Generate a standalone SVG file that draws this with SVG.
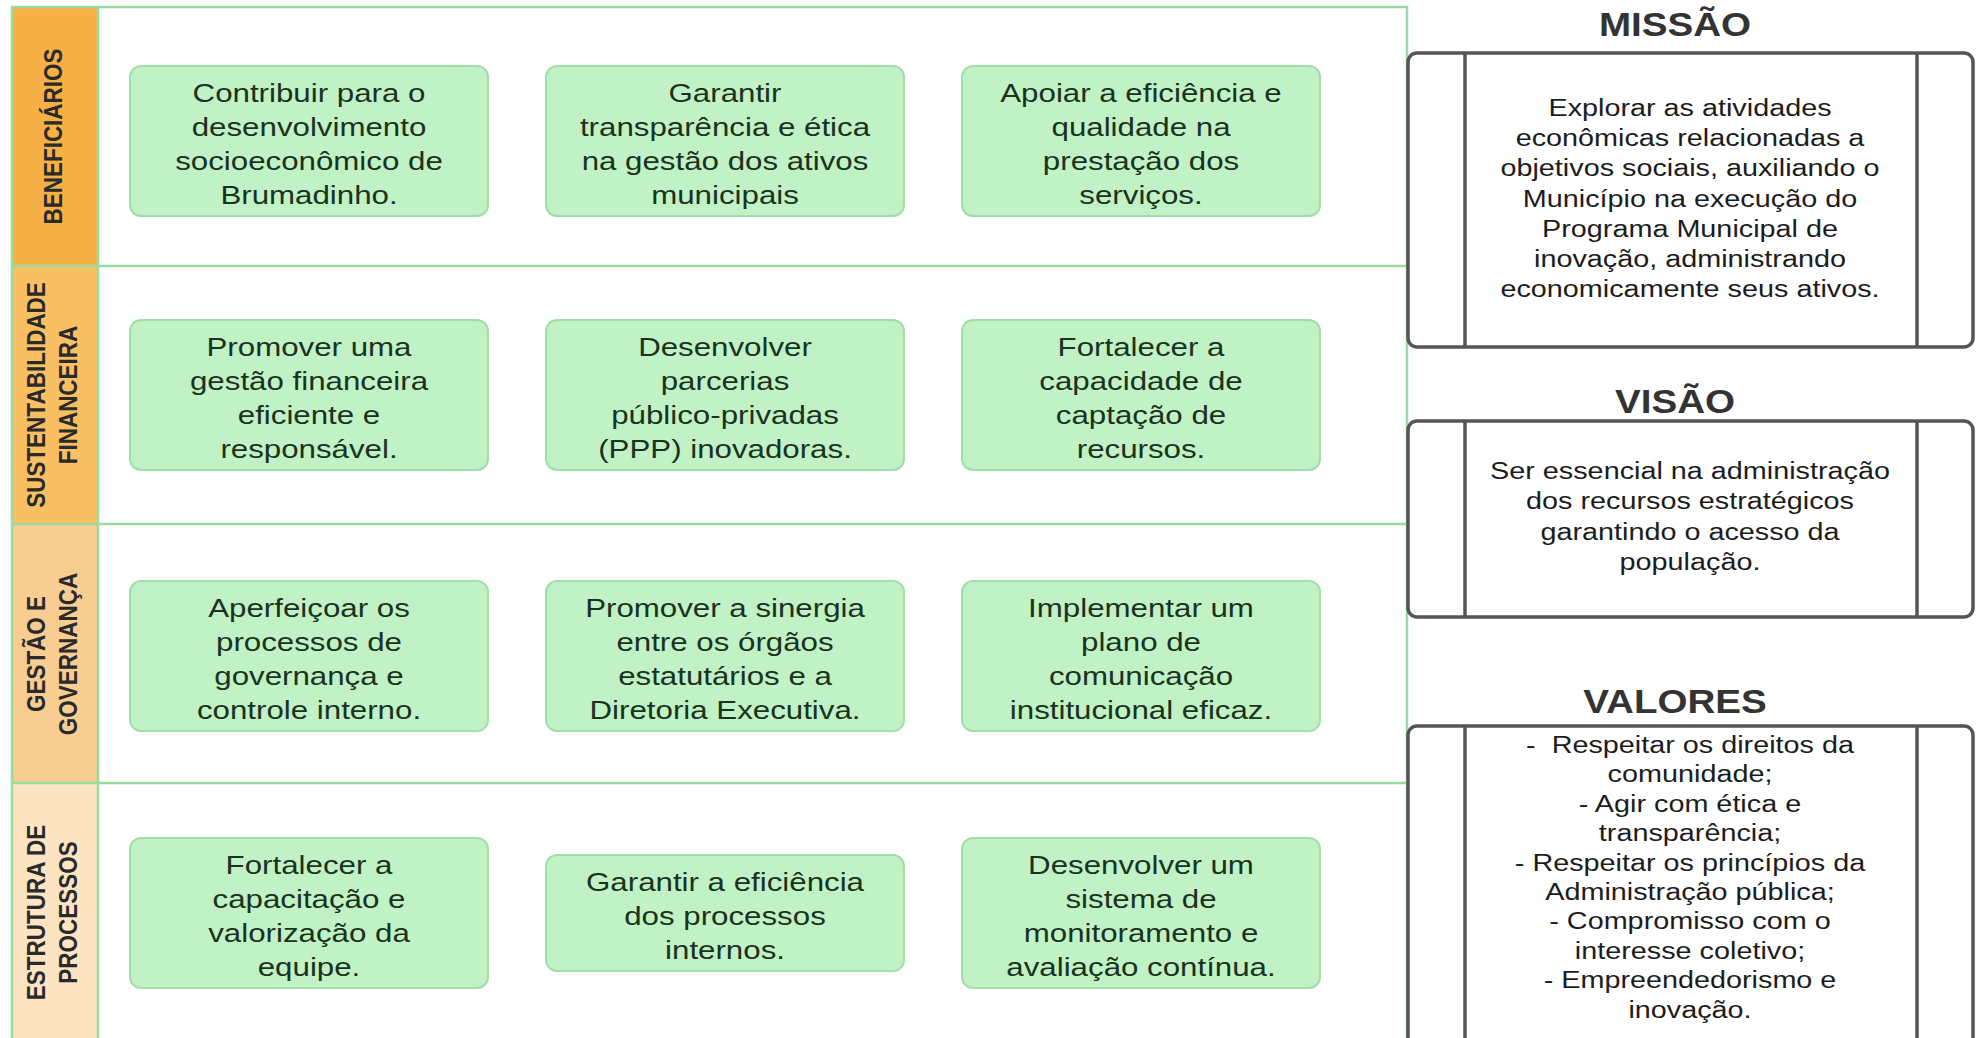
<svg xmlns="http://www.w3.org/2000/svg" width="1977" height="1038" viewBox="0 0 1977 1038">
<style>
.grid{stroke:#9adba1;stroke-width:2.5;fill:none}
.box{fill:#c1f2c5;stroke:#a2dea8;stroke-width:2}
.bt{font-family:"Liberation Sans",Arial,sans-serif;font-size:26.5px;fill:#1a3320;text-anchor:middle}
.lab{font-family:"Liberation Sans",Arial,sans-serif;font-size:22.5px;font-weight:bold;fill:#2a2a2a;text-anchor:middle}
.pan{fill:#ffffff;stroke:#555555;stroke-width:3.5}
.pl{stroke:#555555;stroke-width:3.5}
.ph{font-family:"Liberation Sans",Arial,sans-serif;font-size:32.7px;font-weight:bold;fill:#333333;text-anchor:middle}
.pt{font-family:"Liberation Sans",Arial,sans-serif;font-size:24.4px;fill:#1c1c1c;text-anchor:middle}
</style>
<rect width="1977" height="1038" fill="#ffffff"/>

<g id="lanes">
  <rect x="12" y="7" width="86" height="259" fill="#f7b045"/>
  <rect x="12" y="266" width="86" height="258" fill="#f9c063"/>
  <rect x="12" y="524" width="86" height="259" fill="#f8cd92"/>
  <rect x="12" y="783" width="86" height="270" fill="#fde4c3"/>
  <path class="grid" d="M12,1050 V7 H1407 V1050 M98,7 V1050 M12,266 H1407 M12,524 H1407 M12,783 H1407"/>
</g>

<g id="label-beneficiarios">
  <text class="lab" transform="translate(0 136.5) scale(1.18 1) rotate(-90)"><tspan x="0" y="52.5">BENEFICIÁRIOS</tspan></text>
</g>
<g id="label-sustentabilidade">
  <text class="lab" transform="translate(0 395) scale(1.18 1) rotate(-90)"><tspan x="0" y="38.1">SUSTENTABILIDADE</tspan><tspan x="0" y="65.3">FINANCEIRA</tspan></text>
</g>
<g id="label-gestao">
  <text class="lab" transform="translate(0 654) scale(1.18 1) rotate(-90)"><tspan x="0" y="38.1">GESTÃO E</tspan><tspan x="0" y="65.3">GOVERNANÇA</tspan></text>
</g>
<g id="label-estrutura">
  <text class="lab" transform="translate(0 912.5) scale(1.18 1) rotate(-90)"><tspan x="0" y="38.1">ESTRUTURA DE</tspan><tspan x="0" y="65.3">PROCESSOS</tspan></text>
</g>

<!-- Row 1 -->
<g id="n-r1c1">
  <rect class="box" x="130" y="66" width="358" height="150" rx="11"/>
  <text class="bt" transform="translate(309 2.5) scale(1.18 1)"><tspan x="0" y="100">Contribuir para o</tspan><tspan x="0" y="133.7">desenvolvimento</tspan><tspan x="0" y="167.4">socioeconômico de</tspan><tspan x="0" y="201.1">Brumadinho.</tspan></text>
</g>
<g id="n-r1c2">
  <rect class="box" x="546" y="66" width="358" height="150" rx="11"/>
  <text class="bt" transform="translate(725 2.5) scale(1.18 1)"><tspan x="0" y="100">Garantir</tspan><tspan x="0" y="133.7">transparência e ética</tspan><tspan x="0" y="167.4">na gestão dos ativos</tspan><tspan x="0" y="201.1">municipais</tspan></text>
</g>
<g id="n-r1c3">
  <rect class="box" x="962" y="66" width="358" height="150" rx="11"/>
  <text class="bt" transform="translate(1141 2.5) scale(1.18 1)"><tspan x="0" y="100">Apoiar a eficiência e</tspan><tspan x="0" y="133.7">qualidade na</tspan><tspan x="0" y="167.4">prestação dos</tspan><tspan x="0" y="201.1">serviços.</tspan></text>
</g>

<!-- Row 2 -->
<g id="n-r2c1">
  <rect class="box" x="130" y="320" width="358" height="150" rx="11"/>
  <text class="bt" transform="translate(309 2.5) scale(1.18 1)"><tspan x="0" y="354">Promover uma</tspan><tspan x="0" y="387.7">gestão financeira</tspan><tspan x="0" y="421.4">eficiente e</tspan><tspan x="0" y="455.1">responsável.</tspan></text>
</g>
<g id="n-r2c2">
  <rect class="box" x="546" y="320" width="358" height="150" rx="11"/>
  <text class="bt" transform="translate(725 2.5) scale(1.18 1)"><tspan x="0" y="354">Desenvolver</tspan><tspan x="0" y="387.7">parcerias</tspan><tspan x="0" y="421.4">público-privadas</tspan><tspan x="0" y="455.1">(PPP) inovadoras.</tspan></text>
</g>
<g id="n-r2c3">
  <rect class="box" x="962" y="320" width="358" height="150" rx="11"/>
  <text class="bt" transform="translate(1141 2.5) scale(1.18 1)"><tspan x="0" y="354">Fortalecer a</tspan><tspan x="0" y="387.7">capacidade de</tspan><tspan x="0" y="421.4">captação de</tspan><tspan x="0" y="455.1">recursos.</tspan></text>
</g>

<!-- Row 3 -->
<g id="n-r3c1">
  <rect class="box" x="130" y="581" width="358" height="150" rx="11"/>
  <text class="bt" transform="translate(309 2.5) scale(1.18 1)"><tspan x="0" y="615">Aperfeiçoar os</tspan><tspan x="0" y="648.7">processos de</tspan><tspan x="0" y="682.4">governança e</tspan><tspan x="0" y="716.1">controle interno.</tspan></text>
</g>
<g id="n-r3c2">
  <rect class="box" x="546" y="581" width="358" height="150" rx="11"/>
  <text class="bt" transform="translate(725 2.5) scale(1.18 1)"><tspan x="0" y="615">Promover a sinergia</tspan><tspan x="0" y="648.7">entre os órgãos</tspan><tspan x="0" y="682.4">estatutários e a</tspan><tspan x="0" y="716.1">Diretoria Executiva.</tspan></text>
</g>
<g id="n-r3c3">
  <rect class="box" x="962" y="581" width="358" height="150" rx="11"/>
  <text class="bt" transform="translate(1141 2.5) scale(1.18 1)"><tspan x="0" y="615">Implementar um</tspan><tspan x="0" y="648.7">plano de</tspan><tspan x="0" y="682.4">comunicação</tspan><tspan x="0" y="716.1">institucional eficaz.</tspan></text>
</g>

<!-- Row 4 -->
<g id="n-r4c1">
  <rect class="box" x="130" y="838" width="358" height="150" rx="11"/>
  <text class="bt" transform="translate(309 2.5) scale(1.18 1)"><tspan x="0" y="872">Fortalecer a</tspan><tspan x="0" y="905.7">capacitação e</tspan><tspan x="0" y="939.4">valorização da</tspan><tspan x="0" y="973.1">equipe.</tspan></text>
</g>
<g id="n-r4c2">
  <rect class="box" x="546" y="855" width="358" height="116" rx="11"/>
  <text class="bt" transform="translate(725 2.5) scale(1.18 1)"><tspan x="0" y="889">Garantir a eficiência</tspan><tspan x="0" y="922.7">dos processos</tspan><tspan x="0" y="956.4">internos.</tspan></text>
</g>
<g id="n-r4c3">
  <rect class="box" x="962" y="838" width="358" height="150" rx="11"/>
  <text class="bt" transform="translate(1141 2.5) scale(1.18 1)"><tspan x="0" y="872">Desenvolver um</tspan><tspan x="0" y="905.7">sistema de</tspan><tspan x="0" y="939.4">monitoramento e</tspan><tspan x="0" y="973.1">avaliação contínua.</tspan></text>
</g>

<!-- Right panels -->
<g id="missao">
  <text class="ph" transform="translate(1675 0) scale(1.18 1)" x="0" y="36">MISSÃO</text>
  <rect class="pan" x="1408" y="53" width="565" height="294" rx="9"/>
  <line class="pl" x1="1465" y1="53" x2="1465" y2="347"/>
  <line class="pl" x1="1917" y1="53" x2="1917" y2="347"/>
  <text class="pt" transform="translate(1690 0) scale(1.18 1)"><tspan x="0" y="116">Explorar as atividades</tspan><tspan x="0" y="146.2">econômicas relacionadas a</tspan><tspan x="0" y="176.4">objetivos sociais, auxiliando o</tspan><tspan x="0" y="206.6">Município na execução do</tspan><tspan x="0" y="236.8">Programa Municipal de</tspan><tspan x="0" y="267">inovação, administrando</tspan><tspan x="0" y="297.2">economicamente seus ativos.</tspan></text>
</g>
<g id="visao">
  <text class="ph" transform="translate(1675 0) scale(1.18 1)" x="0" y="413">VISÃO</text>
  <rect class="pan" x="1408" y="421" width="565" height="196" rx="9"/>
  <line class="pl" x1="1465" y1="421" x2="1465" y2="617"/>
  <line class="pl" x1="1917" y1="421" x2="1917" y2="617"/>
  <text class="pt" transform="translate(1690 0) scale(1.18 1)"><tspan x="0" y="479">Ser essencial na administração</tspan><tspan x="0" y="509.3">dos recursos estratégicos</tspan><tspan x="0" y="539.6">garantindo o acesso da</tspan><tspan x="0" y="570">população.</tspan></text>
</g>
<g id="valores">
  <text class="ph" transform="translate(1675 0) scale(1.18 1)" x="0" y="713">VALORES</text>
  <rect class="pan" x="1408" y="726" width="565" height="340" rx="9"/>
  <line class="pl" x1="1465" y1="726" x2="1465" y2="1066"/>
  <line class="pl" x1="1917" y1="726" x2="1917" y2="1066"/>
  <text class="pt" transform="translate(1690 0) scale(1.18 1)" xml:space="preserve"><tspan x="0" y="753">-  Respeitar os direitos da</tspan><tspan x="0" y="782.4">comunidade;</tspan><tspan x="0" y="811.8">- Agir com ética e</tspan><tspan x="0" y="841.2">transparência;</tspan><tspan x="0" y="870.6">- Respeitar os princípios da</tspan><tspan x="0" y="900">Administração pública;</tspan><tspan x="0" y="929.4">- Compromisso com o</tspan><tspan x="0" y="958.8">interesse coletivo;</tspan><tspan x="0" y="988.2">- Empreendedorismo e</tspan><tspan x="0" y="1017.6">inovação.</tspan></text>
</g>

<g id="connectors"></g>
</svg>
